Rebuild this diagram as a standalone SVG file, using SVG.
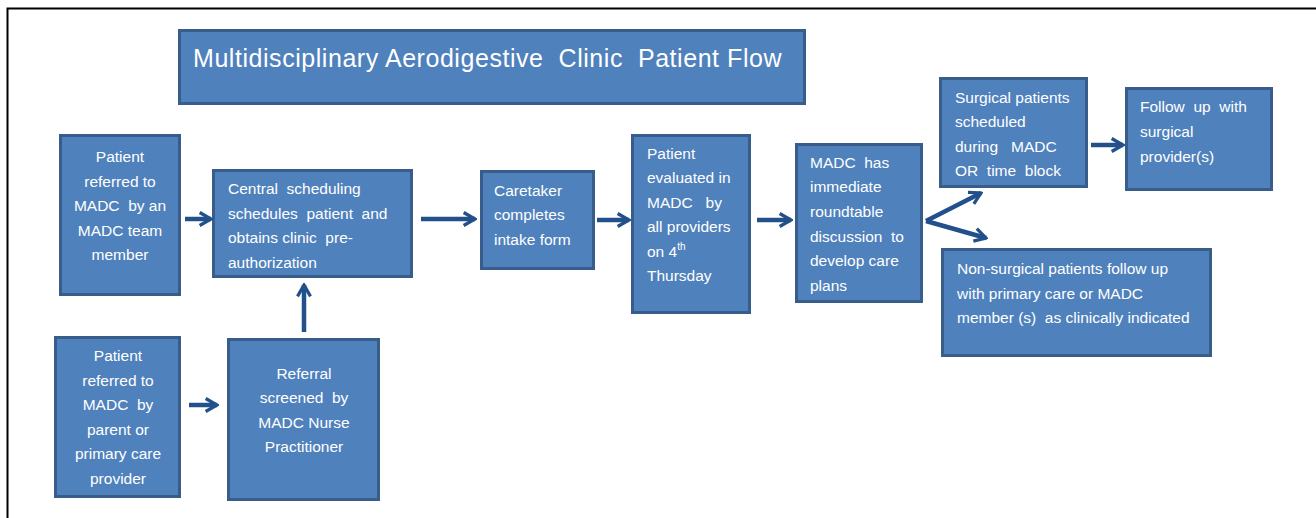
<svg xmlns="http://www.w3.org/2000/svg" width="1316" height="518" viewBox="0 0 1316 518">
<defs>
<style>
.box{fill:#4F81BD;stroke:#385D8A;stroke-width:3}
text{white-space:pre}
.t{font-family:"Liberation Sans",Arial,sans-serif;font-size:15.5px;fill:#FFFFFF}
.c{text-anchor:middle}
.title{font-family:"Liberation Sans",Arial,sans-serif;font-size:25px;letter-spacing:0.55px;fill:#FFFFFF}
.arr{stroke:#22508A;stroke-width:4.5;fill:none;marker-end:url(#ah)}
</style>
<marker id="ah" viewBox="0 0 10 10" refX="9" refY="5" markerWidth="3.6" markerHeight="3.6" orient="auto" markerUnits="strokeWidth">
<path d="M2,1 L9,5 L2,9" fill="none" stroke="#22508A" stroke-width="2" stroke-linejoin="miter"/>
</marker>
</defs>
<rect x="0" y="0" width="1316" height="518" fill="#FFFFFF"/>
<path d="M7.5,520 V8.5 H1320" fill="none" stroke="#000000" stroke-width="2"/>

<g id="title">
<rect class="box" x="179.5" y="30.5" width="625" height="73"/>
<text class="title" x="193" y="67" xml:space="preserve">Multidisciplinary Aerodigestive  Clinic  Patient Flow</text>
</g>

<g id="n1">
<rect class="box" x="60.5" y="135.5" width="119" height="159"/>
<text class="t c" x="120" y="162">Patient</text>
<text class="t c" x="120" y="187">referred to</text>
<text class="t c" x="120" y="211" xml:space="preserve">MADC  by an</text>
<text class="t c" x="120" y="236">MADC team</text>
<text class="t c" x="120" y="260">member</text>
</g>

<g id="n2">
<rect class="box" x="213.5" y="170.5" width="198" height="106"/>
<text class="t" x="228" y="194" xml:space="preserve">Central  scheduling</text>
<text class="t" x="228" y="219" xml:space="preserve">schedules  patient  and</text>
<text class="t" x="228" y="243" xml:space="preserve">obtains clinic  pre-</text>
<text class="t" x="228" y="268">authorization</text>
</g>

<g id="n3">
<rect class="box" x="55.5" y="337.5" width="124" height="159"/>
<text class="t c" x="118" y="361">Patient</text>
<text class="t c" x="118" y="386">referred to</text>
<text class="t c" x="118" y="410" xml:space="preserve">MADC  by</text>
<text class="t c" x="118" y="435">parent or</text>
<text class="t c" x="118" y="459">primary care</text>
<text class="t c" x="118" y="484">provider</text>
</g>

<g id="n4">
<rect class="box" x="228.5" y="339.5" width="150" height="160"/>
<text class="t c" x="304" y="379">Referral</text>
<text class="t c" x="304" y="403" xml:space="preserve">screened  by</text>
<text class="t c" x="304" y="428">MADC Nurse</text>
<text class="t c" x="304" y="452">Practitioner</text>
</g>

<g id="n5">
<rect class="box" x="481.5" y="171.5" width="112" height="97"/>
<text class="t" x="494" y="196">Caretaker</text>
<text class="t" x="494" y="220">completes</text>
<text class="t" x="494" y="245">intake form</text>
</g>

<g id="n6">
<rect class="box" x="632.5" y="135.5" width="117" height="177"/>
<text class="t" x="647" y="159">Patient</text>
<text class="t" x="647" y="183">evaluated in</text>
<text class="t" x="647" y="208" xml:space="preserve">MADC   by</text>
<text class="t" x="647" y="232">all providers</text>
<text class="t" x="647" y="257">on 4<tspan font-size="10" dy="-7">th</tspan></text>
<text class="t" x="647" y="281">Thursday</text>
</g>

<g id="n7">
<rect class="box" x="796.5" y="144.5" width="125" height="157"/>
<text class="t" x="810" y="168" xml:space="preserve">MADC  has</text>
<text class="t" x="810" y="192">immediate</text>
<text class="t" x="810" y="217">roundtable</text>
<text class="t" x="810" y="242" xml:space="preserve">discussion  to</text>
<text class="t" x="810" y="266">develop care</text>
<text class="t" x="810" y="291">plans</text>
</g>

<g id="n8">
<rect class="box" x="940.5" y="78.5" width="146" height="108"/>
<text class="t" x="955" y="103">Surgical patients</text>
<text class="t" x="955" y="127">scheduled</text>
<text class="t" x="955" y="152" xml:space="preserve">during   MADC</text>
<text class="t" x="955" y="176" xml:space="preserve">OR  time  block</text>
</g>

<g id="n9">
<rect class="box" x="1126.5" y="88.5" width="145" height="101"/>
<text class="t" x="1140" y="112" xml:space="preserve">Follow  up  with</text>
<text class="t" x="1140" y="137">surgical</text>
<text class="t" x="1140" y="162">provider(s)</text>
</g>

<g id="n10">
<rect class="box" x="942.5" y="249.5" width="268" height="106"/>
<text class="t" x="957" y="274">Non-surgical patients follow up</text>
<text class="t" x="957" y="299">with primary care or MADC</text>
<text class="t" x="957" y="323" xml:space="preserve">member (s)  as clinically indicated</text>
</g>

<g id="connectors">
<line class="arr" x1="185" y1="219" x2="211" y2="219"/>
<line class="arr" x1="421" y1="219" x2="475" y2="219"/>
<line class="arr" x1="597" y1="220" x2="629" y2="220"/>
<line class="arr" x1="757" y1="220" x2="791" y2="220"/>
<line class="arr" x1="304" y1="332" x2="304" y2="285"/>
<line class="arr" x1="189" y1="405" x2="217" y2="405"/>
<line class="arr" x1="1091" y1="145" x2="1123" y2="145"/>
<line class="arr" x1="926" y1="221" x2="981" y2="193"/>
<line class="arr" x1="926" y1="221" x2="986" y2="238"/>
</g>
</svg>
